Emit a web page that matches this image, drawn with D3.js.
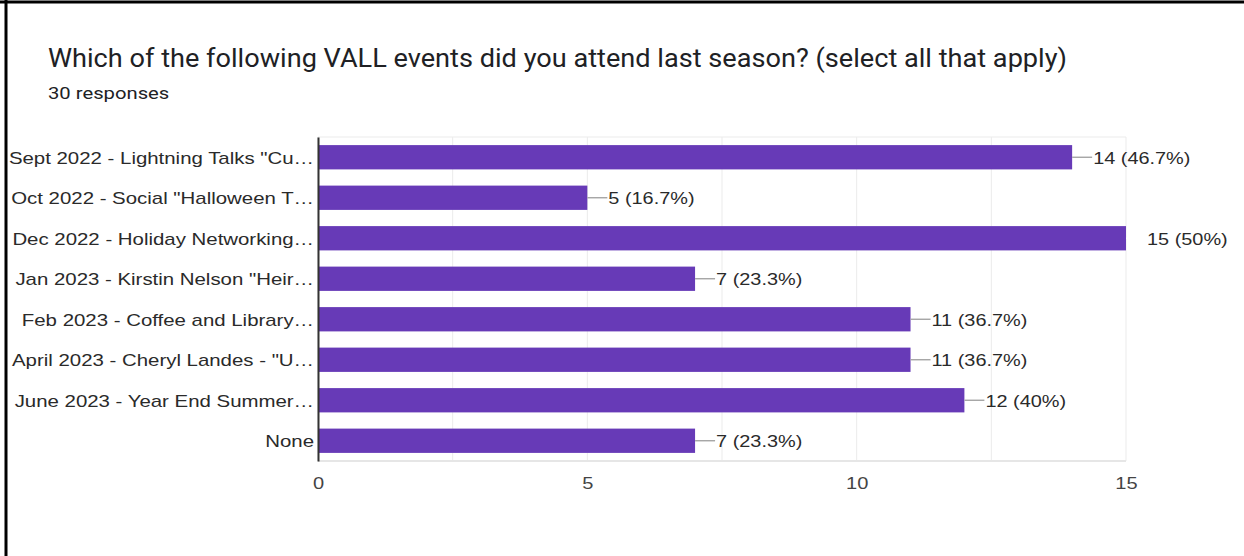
<!DOCTYPE html>
<html>
<head>
<meta charset="utf-8">
<script src="https://cdn.jsdelivr.net/npm/d3@7"></script>
<style>
  body { margin: 0; background: #fff; }
  svg { display: block; }
</style>
</head>
<body>
<svg id="chart"></svg>
<script>
// chart data
var events = [
    'Sept 2022 - Lightning Talks "Cu\u2026',
    'Oct 2022 - Social "Halloween T\u2026',
    'Dec 2022 - Holiday Networking\u2026',
    'Jan 2023 - Kirstin Nelson "Heir\u2026',
    'Feb 2023 - Coffee and Library\u2026',
    'April 2023 - Cheryl Landes - "U\u2026',
    'June 2023 - Year End Summer\u2026',
    'None'
];
var counts = [14, 5, 15, 7, 11, 11, 12, 7];
var percents = ['46.7%', '16.7%', '50%', '23.3%', '36.7%', '36.7%', '40%', '23.3%'];
var xTicks = [0, 5, 10, 15];
var xGrid = [0, 2.5, 5, 7.5, 10, 12.5, 15];
var title = 'Which of the following VALL events did you attend last season? (select all that apply)';
var subtitle = '30 responses';

var data = events.map(function(e, i){
    return {name: e, value: counts[i], pct: percents[i]};
});

// the screenshot is a bit wider than tall, so stretch text sideways
function stretch(sel, k){
    sel.each(function(){
        var w = this.getComputedTextLength();
        d3.select(this)
            .attr('textLength', w * k)
            .attr('lengthAdjust', 'spacingAndGlyphs');
    });
}

function drawChart(data){
    var svgWidth = 1244, svgHeight = 556;
    var margin = {top: 137, right: 118, bottom: 95, left: 318};
    var width = svgWidth - margin.left - margin.right;
    var height = svgHeight - margin.top - margin.bottom;

    var svg = d3.select('#chart')
        .attr('width', svgWidth)
        .attr('height', svgHeight);

    // frame lines (top and left) of the screenshot
    svg.append('line')
        .attr('x1', 0).attr('x2', svgWidth).attr('y1', 2).attr('y2', 2)
        .attr('stroke', '#000').attr('stroke-width', 3);
    svg.append('line')
        .attr('x1', 6).attr('x2', 6).attr('y1', 0).attr('y2', svgHeight)
        .attr('stroke', '#000').attr('stroke-width', 3);

    var t = svg.append('text')
        .attr('x', 48).attr('y', 67)
        .attr('font-family', 'Roboto, Arial, sans-serif')
        .attr('font-size', 25)
        .attr('fill', '#202124')
        .text(title);
    t.attr('textLength', 1019).attr('lengthAdjust', 'spacingAndGlyphs');

    var st = svg.append('text')
        .attr('x', 48).attr('y', 99)
        .attr('font-family', 'Roboto, Arial, sans-serif')
        .attr('font-size', 17)
        .attr('fill', '#202124')
        .text(subtitle);
    stretch(st, 1.19);

    var g = svg.append('g')
        .attr('transform', 'translate(' + margin.left + ',' + margin.top + ')');

    var x = d3.scaleLinear()
        .domain([0, 15])
        .range([0, width]);

    var y = d3.scaleBand()
        .domain(data.map(function(d){ return d.name; }))
        .range([0, height])
        .paddingInner(0.4)
        .paddingOuter(0.2);

    // gridlines
    g.selectAll('.grid')
        .data(xGrid)
        .enter().append('line')
        .attr('x1', function(d){ return x(d); })
        .attr('x2', function(d){ return x(d); })
        .attr('y1', 0).attr('y2', height)
        .attr('stroke', '#ebebeb').attr('stroke-width', 1);
    g.append('line')
        .attr('x1', 0).attr('x2', width).attr('y1', 0).attr('y2', 0)
        .attr('stroke', '#ebebeb');
    g.append('line')
        .attr('x1', 0).attr('x2', width).attr('y1', height).attr('y2', height)
        .attr('stroke', '#e6e6e6').attr('stroke-width', 2);

    // bars
    g.selectAll('.bar')
        .data(data)
        .enter().append('rect')
        .attr('x', 0)
        .attr('y', function(d){ return y(d.name); })
        .attr('width', function(d){ return x(d.value); })
        .attr('height', y.bandwidth())
        .attr('fill', '#673ab7');

    // leader lines + value labels
    var lab = g.selectAll('.lab')
        .data(data)
        .enter().append('g')
        .attr('transform', function(d){
            return 'translate(' + x(d.value) + ',' + (y(d.name) + y.bandwidth() / 2) + ')';
        });
    lab.append('line')
        .attr('x1', 0).attr('x2', 20)
        .attr('y1', 0).attr('y2', 0)
        .attr('stroke', function(d){ return d.value == 15 ? '#fff' : '#9e9e9e'; })
        .attr('stroke-width', 1.3);
    var vt = lab.append('text')
        .attr('x', 21)
        .attr('dy', '0.38em')
        .attr('font-family', 'Arial, "Liberation Sans", sans-serif')
        .attr('font-size', 17)
        .attr('fill', '#2a2a2a')
        .text(function(d){ return d.value + ' (' + d.pct + ')'; });
    stretch(vt, 1.17);

    // y axis
    var yAxis = g.append('g')
        .call(d3.axisLeft(y).tickSize(0).tickPadding(4));
    yAxis.select('.domain').attr('stroke', '#333').attr('stroke-width', 2);
    yAxis.selectAll('text')
        .attr('dy', '0.38em')
        .attr('font-family', 'Arial, "Liberation Sans", sans-serif')
        .attr('font-size', 17)
        .attr('fill', '#2a2a2a');
    stretch(yAxis.selectAll('text'), 1.2);

    // x axis
    var xAxis = g.append('g')
        .attr('transform', 'translate(0,' + height + ')')
        .call(d3.axisBottom(x).tickValues(xTicks).tickSize(0).tickPadding(16));
    xAxis.select('.domain').remove();
    xAxis.selectAll('text')
        .attr('font-family', 'Arial, "Liberation Sans", sans-serif')
        .attr('font-size', 17)
        .attr('fill', '#444');
    stretch(xAxis.selectAll('text'), 1.18);
}

drawChart(data);
</script>
</body>
</html>
